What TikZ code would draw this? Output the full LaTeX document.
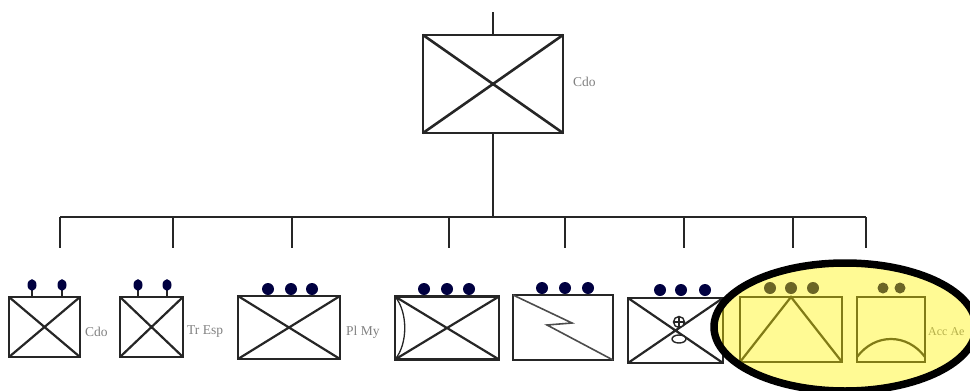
\documentclass[tikz,border=0pt]{standalone}
\usepackage{fontspec}
\setmainfont{Liberation Serif}
\begin{document}
\begin{tikzpicture}[x=1pt,y=-1pt,
  unitbox/.style={draw=black!85, line width=2.2pt, inner sep=0pt, outer sep=0pt, minimum width=#1},
  topbox/.style={draw=black!85, line width=2.6pt, inner sep=0pt, outer sep=0pt},
  wire/.style={draw=black!85, line width=1.8pt},
  mark2/.style={fill=blue!25!black, draw=none},
  lbl/.style={font=\fontsize{13.5}{14}\selectfont, text=black!50, inner sep=0pt, anchor=west},
  hilite/.style={draw=black, line width=7.5pt, fill=yellow, fill opacity=0.42}]
\useasboundingbox (0,0) rectangle (970,391);
\begin{scope}
\clip (0,0) rectangle (970,391);
% top unit
\node[topbox, minimum width=140pt, minimum height=98pt] (top) at (493,84) {};
\draw[topbox] (top.north west) -- (top.south east) (top.south west) -- (top.north east);
\coordinate (hq) at (493,12);
\draw[wire] (hq) -- (top.north);
\node[lbl] (toplbl) at (573,82) {Cdo};
% bus
\coordinate (j0) at (493,217);
\coordinate (j1) at (60,217);
\coordinate (j8) at (866,217);
\draw[wire, line width=2.6pt] (j1) -- (j8);
\draw[wire] (top.south) -- (j0);
\foreach \i/\x in {1/60,2/173,3/292,4/449,5/565,6/684,7/793,8/866}{
  \coordinate (u\i) at (\x,217);
  \coordinate (d\i) at (\x,248);
  \draw[wire] (u\i) -- (d\i);
}
% bottom boxes
\node[unitbox=71pt, minimum height=60pt] (b1) at (44.5,327) {};
\node[unitbox=63pt, minimum height=60pt] (b2) at (151.5,327) {};
\node[unitbox=102pt, minimum height=63pt] (b3) at (289,327.5) {};
\node[unitbox=104pt, minimum height=63pt] (b4) at (447,328) {};
\node[unitbox=100pt, minimum height=65pt] (b5) at (563,327.5) {};
\node[unitbox=95pt, minimum height=65pt] (b6) at (675.5,330.5) {};
\node[unitbox=102pt, minimum height=65pt] (b7) at (791,329.5) {};
\node[unitbox=68pt, minimum height=65pt] (b8) at (891,329.5) {};
% crosses
\foreach \b in {b1,b2,b3,b4,b6}{
  \draw[unitbox] (\b.north west) -- (\b.south east) (\b.south west) -- (\b.north east);
}
% b4 curved left side
\draw[unitbox, line width=1.3pt] (b4.north west) .. controls (408,312) and (408,344) .. (b4.south west);
% b5 zigzag
\draw[unitbox, draw=black!70, line width=1.6pt] (b5.north west) -- (572,323) -- (547,325) -- (b5.south east);
% b6 emblem
\draw[black!85, line width=1.4pt, fill=white] (679,322) circle (5.5pt);
\draw[black!85, line width=1.2pt] (673.5,322) -- (684.5,322) (679,316.5) -- (679,327.5);
\draw[black!85, line width=1.4pt, fill=white] (679,339) ellipse (7pt and 4pt);
% b7 triangle
\draw[unitbox] (b7.south west) -- (b7.north) -- (b7.south east);
% b8 arc
\draw[unitbox] (857,357) .. controls (875,333) and (907,333) .. (925,357);
% bumps
\foreach \x in {32,62,138,167}{
  \draw[black!85, line width=1.8pt] (\x,287) -- (\x,297);
  \fill[mark2] (\x,285) ellipse (4.5pt and 5.8pt);
}
\foreach \x in {268,291,312}{\fill[mark2] (\x,289) circle (6pt);}
\foreach \x in {424,447,469}{\fill[mark2] (\x,289) circle (6pt);}
\foreach \x in {542,565,588}{\fill[mark2] (\x,288) circle (6pt);}
\foreach \x in {660,681,705}{\fill[mark2] (\x,290) circle (6pt);}
\foreach \x in {770,791,813}{\fill[mark2] (\x,288) circle (6pt);}
\foreach \x in {883,900}{\fill[mark2] (\x,288) circle (5.5pt);}
% labels
\node[lbl] (l1) at (85,332) {Cdo};
\node[lbl] (l2) at (187,332) {Tr Esp};
\node[lbl] (l3) at (346,332) {Pl My};
\node[lbl, font=\fontsize{12}{13}\selectfont] (l8) at (928,332) {Acc Ae};
% highlight
\draw[hilite] (845,327) ellipse (131pt and 64pt);
\end{scope}
\end{tikzpicture}
\end{document}
